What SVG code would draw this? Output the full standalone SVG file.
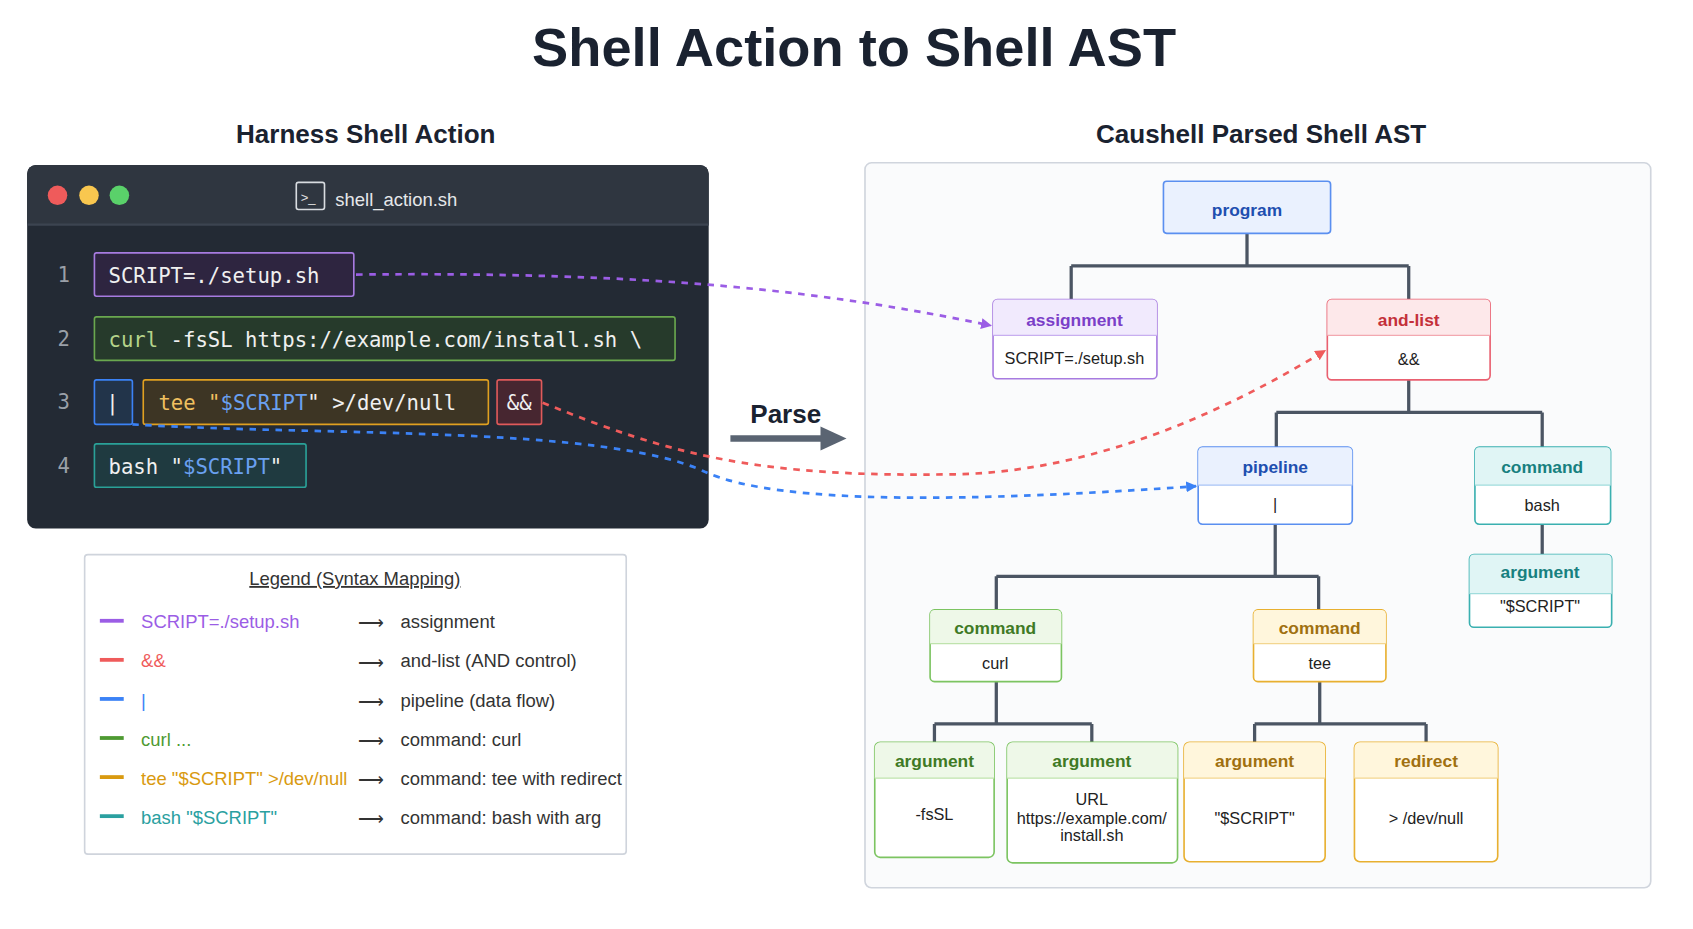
<svg xmlns="http://www.w3.org/2000/svg" width="1693" height="929" viewBox="0 0 1693 929">
<defs>
<style>
.t{font-family:"Liberation Sans",Arial,sans-serif}
.m{font-family:"DejaVu Sans Mono","Liberation Mono",monospace;font-size:19px;fill:#f0f0f0}
.ln{font-family:"DejaVu Sans Mono",monospace;font-size:19px;fill:#9aa0a8}
.hd{font-family:"Liberation Sans",Arial,sans-serif;font-weight:bold;font-size:16px;text-anchor:middle}
.val{font-family:"Liberation Sans",Arial,sans-serif;font-size:15px;fill:#222;text-anchor:middle}
.tree{stroke:#4b5563;stroke-width:3;fill:none}
.lg{font-family:"Liberation Sans",Arial,sans-serif;font-size:17px}
.ld{fill:#333}
</style>
<marker id="ap" markerWidth="10" markerHeight="10" refX="9" refY="5" orient="auto" markerUnits="userSpaceOnUse"><path d="M0,0L10,5L0,10z" fill="#9b5de5"/></marker>
<marker id="ar" markerWidth="10" markerHeight="10" refX="9" refY="5" orient="auto" markerUnits="userSpaceOnUse"><path d="M0,0L10,5L0,10z" fill="#ef5b5b"/></marker>
<marker id="ab" markerWidth="10" markerHeight="10" refX="9" refY="5" orient="auto" markerUnits="userSpaceOnUse"><path d="M0,0L10,5L0,10z" fill="#3b82f6"/></marker>
<marker id="ag" markerWidth="24" markerHeight="24" refX="2" refY="12" orient="auto" markerUnits="userSpaceOnUse"><path d="M0,1L24,12L0,23z" fill="#5a6472"/></marker>
</defs>
<rect width="1693" height="929" fill="#fff"/>
<g transform="scale(1.0853)">
<text class="t" x="787" y="61" font-size="50" font-weight="bold" text-anchor="middle" fill="#1a2230">Shell Action to Shell AST</text>
<text class="t" x="337" y="132" font-size="24" font-weight="bold" text-anchor="middle" fill="#1a2230">Harness Shell Action</text>
<text class="t" x="1162" y="132" font-size="24" font-weight="bold" text-anchor="middle" fill="#1a2230">Caushell Parsed Shell AST</text>

<g id="terminal">
<rect x="25" y="152" width="628" height="335" rx="8" fill="#232a34"/>
<path d="M33,152H645a8,8 0 0 1 8,8V207H25V160a8,8 0 0 1 8,-8z" fill="#2f3640"/>
<line x1="25" y1="207" x2="653" y2="207" stroke="#3c4450" stroke-width="2"/>
<circle cx="53" cy="180" r="9" fill="#ef5b5b"/><circle cx="82" cy="180" r="9" fill="#f9c74f"/><circle cx="110" cy="180" r="9" fill="#5ad16a"/>
<rect x="273" y="168" width="26" height="25" rx="2" fill="none" stroke="#d8dce0" stroke-width="1.5"/>
<text class="t" x="277" y="186" font-size="12" fill="#e0e0e0">&gt;_</text>
<text class="t" x="309" y="190" font-size="17" fill="#e6e8ea">shell_action.sh</text>
<text class="ln" x="53" y="260">1</text><text class="ln" x="53" y="319">2</text><text class="ln" x="53" y="377">3</text><text class="ln" x="53" y="436">4</text>
<rect x="87" y="233" width="239" height="40" rx="2" fill="#2e2540" stroke="#a77be0" stroke-width="1.5"/>
<text class="m" x="100" y="261">SCRIPT=./setup.sh</text>
<rect x="87" y="292" width="535" height="40" rx="2" fill="#263a2b" stroke="#6aa84f" stroke-width="1.5"/>
<text class="m" x="100" y="320"><tspan fill="#b5d38a">curl</tspan> -fsSL https://example.com/install.sh \</text>
<rect x="87" y="350" width="35" height="41" rx="2" fill="#22344a" stroke="#3b82f6" stroke-width="1.5"/>
<text class="m" x="98" y="378">|</text>
<rect x="132" y="350" width="318" height="41" rx="2" fill="#3d3524" stroke="#e0a020" stroke-width="1.5"/>
<text class="m" x="146" y="378"><tspan fill="#f0c060">tee "</tspan><tspan fill="#6aa0f0">$SCRIPT</tspan>" &gt;/dev/null</text>
<rect x="458" y="350" width="41" height="41" rx="2" fill="#472630" stroke="#e05a5a" stroke-width="1.5"/>
<text class="m" x="467" y="378">&amp;&amp;</text>
<rect x="87" y="409" width="195" height="40" rx="2" fill="#1f3a40" stroke="#2aa198" stroke-width="1.5"/>
<text class="m" x="100" y="437">bash "<tspan fill="#6aa0f0">$SCRIPT</tspan>"</text>
</g>

<g id="parse">
<text class="t" x="724" y="390" font-size="24" font-weight="bold" text-anchor="middle" fill="#1a2230">Parse</text>
<line x1="673" y1="404" x2="758" y2="404" stroke="#5a6472" stroke-width="6" marker-end="url(#ag)"/>
</g>

<g id="legend">
<rect x="78" y="511" width="499" height="276" rx="3" fill="#fff" stroke="#cfd4dc" stroke-width="1.5"/>
<text class="lg" x="327" y="539" text-anchor="middle" fill="#333" text-decoration="underline">Legend (Syntax Mapping)</text>
<g stroke-width="3.5">
<line x1="92" y1="572" x2="114" y2="572" stroke="#9b5de5"/>
<line x1="92" y1="608" x2="114" y2="608" stroke="#ef5b5b"/>
<line x1="92" y1="644" x2="114" y2="644" stroke="#3b82f6"/>
<line x1="92" y1="680" x2="114" y2="680" stroke="#4e9a32"/>
<line x1="92" y1="716" x2="114" y2="716" stroke="#d99a10"/>
<line x1="92" y1="752" x2="114" y2="752" stroke="#2aa0a0"/>
</g>
<text class="lg" x="130" y="579" fill="#9b5de5">SCRIPT=./setup.sh</text>
<text class="lg" x="130" y="615" fill="#ef5b5b">&amp;&amp;</text>
<text class="lg" x="130" y="651" fill="#3b82f6">|</text>
<text class="lg" x="130" y="687" fill="#4e9a32">curl ...</text>
<text class="lg" x="130" y="723" fill="#d99a10">tee "$SCRIPT" &gt;/dev/null</text>
<text class="lg" x="130" y="759" fill="#2aa0a0">bash "$SCRIPT"</text>
<g class="lg ld">
<text x="330" y="580">⟶</text><text x="330" y="616">⟶</text><text x="330" y="652">⟶</text><text x="330" y="688">⟶</text><text x="330" y="724">⟶</text><text x="330" y="760">⟶</text>
<text x="369" y="579">assignment</text>
<text x="369" y="615">and-list (AND control)</text>
<text x="369" y="651">pipeline (data flow)</text>
<text x="369" y="687">command: curl</text>
<text x="369" y="723">command: tee with redirect</text>
<text x="369" y="759">command: bash with arg</text>
</g>
</g>

<rect x="797" y="150" width="724" height="668" rx="6" fill="#fafbfc" stroke="#d0d5dd" stroke-width="1.5"/>

<g id="connectors">
<path class="tree" d="M1149,215V245M987,245H1298M987,245V276M1298,245V276"/>
<path class="tree" d="M1298,350V380M1176,380H1421M1176,380V412M1421,380V412"/>
<path class="tree" d="M1175,483V531M918,531H1215M918,531V562M1215,531V562"/>
<path class="tree" d="M1421,483V511"/>
<path class="tree" d="M918,628V667M861,667H1006M861,667V684M1006,667V684"/>
<path class="tree" d="M1216,628V667M1156,667H1314M1156,667V684M1314,667V684"/>
<path d="M328,253C600,250 760,268 913,300" fill="none" stroke="#9b5de5" stroke-width="2.5" stroke-dasharray="6,6" marker-end="url(#ap)"/>
<path d="M500,371C620,420 700,440 880,437C1000,435 1120,385 1221,323" fill="none" stroke="#ef5b5b" stroke-width="2.5" stroke-dasharray="6,6" marker-end="url(#ar)"/>
<path d="M122,391C300,402 560,392 650,435C720,466 900,462 1102,448" fill="none" stroke="#3b82f6" stroke-width="2.5" stroke-dasharray="6,6" marker-end="url(#ab)"/>
</g>

<g id="program">
<rect x="1072" y="167" width="154" height="48" rx="3" fill="#eaf1fe" stroke="#5a8ff0" stroke-width="1.5"/>
<text class="hd" x="1149" y="199" font-size="17" fill="#1e4fb0">program</text>
</g>
<g id="assignment">
<rect x="915" y="276" width="151" height="73" rx="4" fill="#fff" stroke="#a77be0" stroke-width="1.5"/>
<path d="M919,276H1062a4,4 0 0 1 4,4V309H915V280a4,4 0 0 1 4,-4z" fill="#f1eafd"/>
<line x1="915" y1="309" x2="1066" y2="309" stroke="#c8aef0"/>
<text class="hd" x="990" y="300" fill="#7b3fc8">assignment</text>
<text class="val" x="990" y="335">SCRIPT=./setup.sh</text>
</g>
<g id="andlist">
<rect x="1223" y="276" width="150" height="74" rx="4" fill="#fff" stroke="#e96070" stroke-width="1.5"/>
<path d="M1227,276H1369a4,4 0 0 1 4,4V309H1223V280a4,4 0 0 1 4,-4z" fill="#fde8ea"/>
<line x1="1223" y1="309" x2="1373" y2="309" stroke="#f3a8b0"/>
<text class="hd" x="1298" y="300" fill="#c4303a">and-list</text>
<text class="val" x="1298" y="336">&amp;&amp;</text>
</g>
<g id="pipeline">
<rect x="1104" y="412" width="142" height="71" rx="4" fill="#fff" stroke="#5a8ff0" stroke-width="1.5"/>
<path d="M1108,412H1242a4,4 0 0 1 4,4V447H1104V416a4,4 0 0 1 4,-4z" fill="#eaf1fe"/>
<line x1="1104" y1="447" x2="1246" y2="447" stroke="#a8c4f6"/>
<text class="hd" x="1175" y="436" fill="#1e4fb0">pipeline</text>
<text class="val" x="1175" y="470">|</text>
</g>
<g id="cmd-bash">
<rect x="1359" y="412" width="125" height="71" rx="4" fill="#fff" stroke="#3ab0b0" stroke-width="1.5"/>
<path d="M1363,412H1480a4,4 0 0 1 4,4V447H1359V416a4,4 0 0 1 4,-4z" fill="#e0f5f5"/>
<line x1="1359" y1="447" x2="1484" y2="447" stroke="#a0dcdc"/>
<text class="hd" x="1421" y="436" fill="#17807f">command</text>
<text class="val" x="1421" y="471">bash</text>
</g>
<g id="arg-bash">
<rect x="1354" y="511" width="131" height="67" rx="4" fill="#fff" stroke="#3ab0b0" stroke-width="1.5"/>
<path d="M1358,511H1481a4,4 0 0 1 4,4V547H1354V515a4,4 0 0 1 4,-4z" fill="#e0f5f5"/>
<line x1="1354" y1="547" x2="1485" y2="547" stroke="#a0dcdc"/>
<text class="hd" x="1419" y="533" fill="#17807f">argument</text>
<text class="val" x="1419" y="564">"$SCRIPT"</text>
</g>
<g id="cmd-curl">
<rect x="857" y="562" width="121" height="66" rx="4" fill="#fff" stroke="#7cc461" stroke-width="1.5"/>
<path d="M861,562H974a4,4 0 0 1 4,4V593H857V566a4,4 0 0 1 4,-4z" fill="#eef8e8"/>
<line x1="857" y1="593" x2="978" y2="593" stroke="#bfe3ad"/>
<text class="hd" x="917" y="584" fill="#3f7a25">command</text>
<text class="val" x="917" y="616">curl</text>
</g>
<g id="cmd-tee">
<rect x="1155" y="562" width="122" height="66" rx="4" fill="#fff" stroke="#e8b030" stroke-width="1.5"/>
<path d="M1159,562H1273a4,4 0 0 1 4,4V593H1155V566a4,4 0 0 1 4,-4z" fill="#fff6dc"/>
<line x1="1155" y1="593" x2="1277" y2="593" stroke="#f3d690"/>
<text class="hd" x="1216" y="584" fill="#a07010">command</text>
<text class="val" x="1216" y="616">tee</text>
</g>
<g id="arg-fssl">
<rect x="806" y="684" width="110" height="106" rx="5" fill="#fff" stroke="#7cc461" stroke-width="1.5"/>
<path d="M811,684H911a5,5 0 0 1 5,5V717H806V689a5,5 0 0 1 5,-5z" fill="#eef8e8"/>
<line x1="806" y1="717" x2="916" y2="717" stroke="#bfe3ad"/>
<text class="hd" x="861" y="707" fill="#3f7a25">argument</text>
<text class="val" x="861" y="756">-fsSL</text>
</g>
<g id="arg-url">
<rect x="928" y="684" width="157" height="111" rx="5" fill="#fff" stroke="#7cc461" stroke-width="1.5"/>
<path d="M933,684H1080a5,5 0 0 1 5,5V717H928V689a5,5 0 0 1 5,-5z" fill="#eef8e8"/>
<line x1="928" y1="717" x2="1085" y2="717" stroke="#bfe3ad"/>
<text class="hd" x="1006" y="707" fill="#3f7a25">argument</text>
<text class="val" x="1006" y="742" font-size="14">URL</text>
<text class="val" x="1006" y="759" font-size="14">https://example.com/</text>
<text class="val" x="1006" y="775" font-size="14">install.sh</text>
</g>
<g id="arg-script">
<rect x="1091" y="684" width="130" height="110" rx="5" fill="#fff" stroke="#e8b030" stroke-width="1.5"/>
<path d="M1096,684H1216a5,5 0 0 1 5,5V717H1091V689a5,5 0 0 1 5,-5z" fill="#fff6dc"/>
<line x1="1091" y1="717" x2="1221" y2="717" stroke="#f3d690"/>
<text class="hd" x="1156" y="707" fill="#a07010">argument</text>
<text class="val" x="1156" y="759">"$SCRIPT"</text>
</g>
<g id="redirect">
<rect x="1248" y="684" width="132" height="110" rx="5" fill="#fff" stroke="#e8b030" stroke-width="1.5"/>
<path d="M1253,684H1375a5,5 0 0 1 5,5V717H1248V689a5,5 0 0 1 5,-5z" fill="#fff6dc"/>
<line x1="1248" y1="717" x2="1380" y2="717" stroke="#f3d690"/>
<text class="hd" x="1314" y="707" fill="#a07010">redirect</text>
<text class="val" x="1314" y="759">&gt; /dev/null</text>
</g>
</g>
</svg>
